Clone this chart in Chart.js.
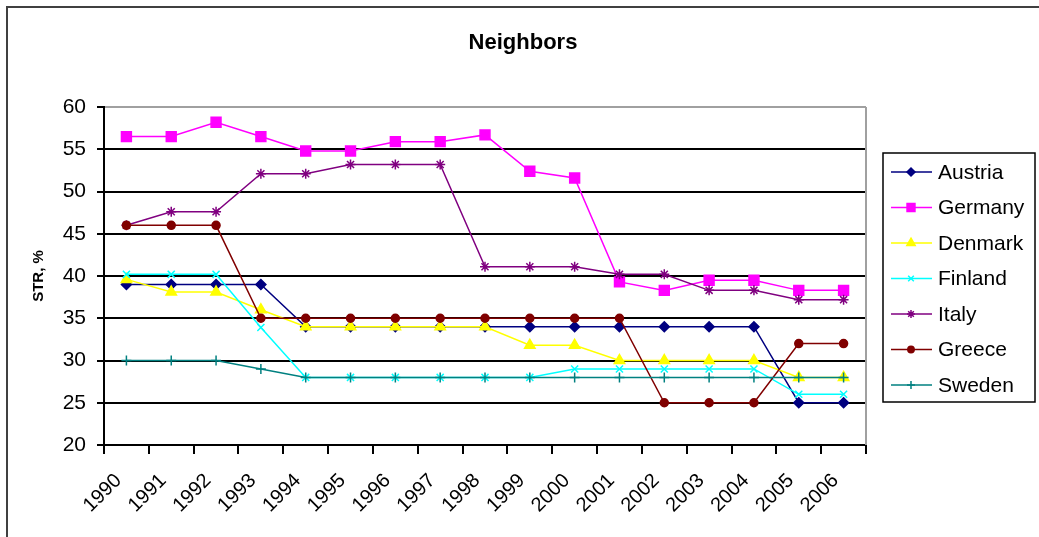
<!DOCTYPE html>
<html lang="en">
<head>
    <meta charset="UTF-8">
    <title>Neighbors</title>
    <script src="https://cdn.jsdelivr.net/npm/chart.js"></script>
    <style>
        body {
            margin: 0;
            background: white;
        }

        .chart-container {
            position: relative;
            width: 1039px;
            height: 537px;
        }
    </style>
</head>
<body>
    <div class="chart-container">
        <canvas id="neighborsChart"></canvas>
    </div>

    <script>
        // values
        const years = ['1990', '1991', '1992', '1993', '1994', '1995', '1996', '1997', '1998',
                       '1999', '2000', '2001', '2002', '2003', '2004', '2005', '2006'];
        const austria = [39, 39, 39, 39, 34, 34, 34, 34, 34, 34, 34, 34, 34, 34, 34, 25, 25];
        const germany = [56.5, 56.5, 58.2, 56.5, 54.8, 54.8, 55.9, 55.9, 56.7, 52.4, 51.6, 39.3, 38.3, 39.5, 39.5, 38.3, 38.3];
        const denmark = [39.6, 38.1, 38.1, 36, 34, 34, 34, 34, 34, 31.8, 31.8, 30, 30, 30, 30, 28, 28];
        const finland = [40.2, 40.2, 40.2, 33.9, 28, 28, 28, 28, 28, 28, 29, 29, 29, 29, 29, 26, 26];
        const italy = [46, 47.6, 47.6, 52.1, 52.1, 53.2, 53.2, 53.2, 41.1, 41.1, 41.1, 40.2, 40.2, 38.3, 38.3, 37.2, 37.2];
        const greece = [46, 46, 46, 35, 35, 35, 35, 35, 35, 35, 35, 35, 25, 25, 25, 32, 32];
        const sweden = [30, 30, 30, 29, 28, 28, 28, 28, 28, 28, 28, 28, 28, 28, 28, 28, 28];
        const yTicks = [20, 25, 30, 35, 40, 45, 50, 55, 60];

        const FONT = '"Liberation Sans", Arial, sans-serif';
        Chart.defaults.font.family = FONT;
        Chart.defaults.color = '#000';

        // name, values, colour, marker, marker size
        const series = [
            ['Austria', austria, '#000080', 'rectRot', 5],
            ['Germany', germany, '#ff00ff', 'rect', 7],
            ['Denmark', denmark, '#ffff00', 'triangle', 6],
            ['Finland', finland, '#00ffff', 'crossRot', 5],
            ['Italy', italy, '#800080', 'star', 5],
            ['Greece', greece, '#800000', 'circle', 4],
            ['Sweden', sweden, '#008080', 'cross', 5]
        ];

        // frame, title, plot border and the boxed legend
        const decor = {
            id: 'decor',
            beforeDatasetsDraw(chart) {
                const ctx = chart.ctx, a = chart.chartArea;
                ctx.save();
                ctx.strokeStyle = '#a0a0a0';
                ctx.lineWidth = 2;
                ctx.beginPath();
                ctx.moveTo(a.right, a.top);
                ctx.lineTo(a.right, a.bottom);
                ctx.stroke();
                ctx.restore();
            },
            afterDraw(chart) {
                const ctx = chart.ctx;
                ctx.save();
                // chart frame, only left and top edges are inside the picture
                ctx.strokeStyle = '#404040';
                ctx.lineWidth = 2;
                ctx.beginPath();
                ctx.moveTo(7, 537);
                ctx.lineTo(7, 7);
                ctx.lineTo(1039, 7);
                ctx.stroke();

                ctx.fillStyle = '#000';
                ctx.font = 'bold 22px ' + FONT;
                ctx.textAlign = 'center';
                ctx.textBaseline = 'middle';
                ctx.fillText('Neighbors', 523, 43);

                // legend
                ctx.strokeStyle = '#000';
                ctx.lineWidth = 1.5;
                ctx.strokeRect(883, 153, 152, 249);
                ctx.font = '21px ' + FONT;
                ctx.textAlign = 'left';
                series.forEach((s, i) => {
                    const y = 172 + i * 35.5;
                    ctx.strokeStyle = s[2];
                    ctx.lineWidth = 1.5;
                    ctx.beginPath();
                    ctx.moveTo(891, y);
                    ctx.lineTo(932, y);
                    ctx.stroke();
                    ctx.fillStyle = s[2];
                    Chart.helpers.drawPoint(ctx, {
                        pointStyle: s[3],
                        radius: s[4] * 0.8,
                        rotation: 0,
                        borderWidth: 1.5
                    }, 911, y);
                    ctx.fillStyle = '#000';
                    ctx.fillText(s[0], 938, y + 1);
                });
                ctx.restore();
            }
        };

        const ctx = document.getElementById('neighborsChart').getContext('2d');
        const neighborsChart = new Chart(ctx, {
            type: 'line',
            data: {
                labels: years,
                datasets: series.map((s, i) => ({
                    label: s[0],
                    data: s[1],
                    borderColor: s[2],
                    backgroundColor: s[2],
                    pointBorderColor: s[2],
                    pointBackgroundColor: s[2],
                    pointStyle: s[3],
                    pointRadius: s[4],
                    pointBorderWidth: 1.5,
                    borderWidth: 1.5,
                    tension: 0,
                    fill: false,
                    order: series.length - i
                }))
            },
            options: {
                responsive: true,
                maintainAspectRatio: false,
                animation: false,
                layout: {
                    padding: { left: 8, top: 107, right: 173, bottom: 0 }
                },
                plugins: {
                    legend: { display: false },
                    title: { display: false },
                    tooltip: { enabled: false }
                },
                scales: {
                    x: {
                        offset: true,
                        grid: {
                            offset: true,
                            drawOnChartArea: false,
                            tickLength: 9,
                            tickColor: '#000',
                            lineWidth: 2
                        },
                        border: { color: '#000', width: 2 },
                        ticks: {
                            font: { size: 20 },
                            minRotation: 45,
                            maxRotation: 45,
                            padding: 15,
                            labelOffset: -8
                        },
                        afterFit(scale) { scale.height = 92; }
                    },
                    y: {
                        min: 20,
                        max: 60,
                        afterBuildTicks(scale) {
                            scale.ticks = yTicks.map(v => ({ value: v }));
                        },
                        grid: {
                            color: c => c.tick && c.tick.value === 60 ? '#a0a0a0' : '#000',
                            tickColor: '#000',
                            lineWidth: 2,
                            tickLength: 7
                        },
                        border: { color: '#000', width: 2 },
                        ticks: {
                            font: { size: 21 },
                            padding: 11
                        },
                        title: {
                            display: true,
                            text: 'STR, %',
                            font: { size: 15, weight: 'bold' },
                            padding: { top: 22, bottom: 0 }
                        },
                        afterFit(scale) { scale.width = 96; }
                    }
                }
            },
            plugins: [decor]
        });
    </script>
</body>
</html>
